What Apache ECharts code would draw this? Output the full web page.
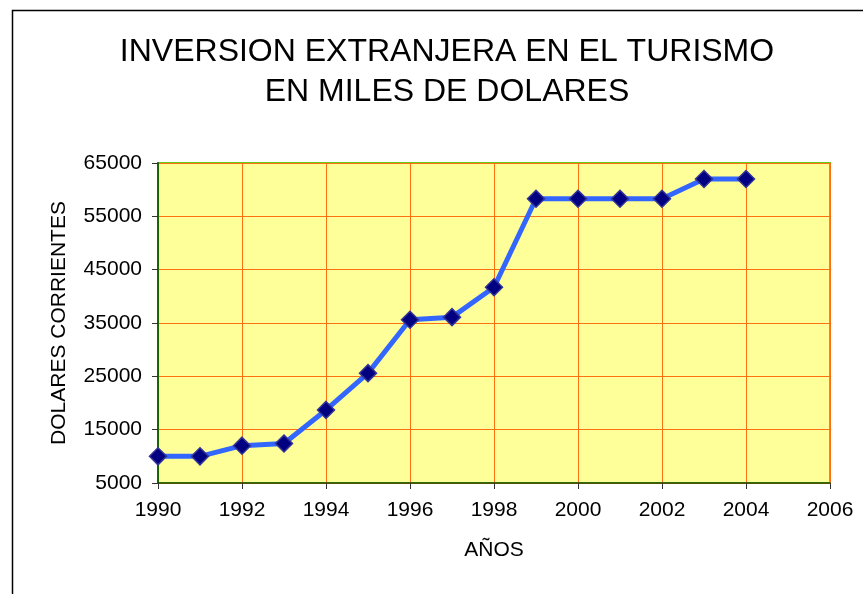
<!DOCTYPE html>
<html>
<head>
<meta charset="utf-8">
<script src="https://cdn.jsdelivr.net/npm/echarts@6/dist/echarts.min.js"></script>
<style>
  html, body { margin: 0; padding: 0; background: #fff; }
  #chart { width: 863px; height: 594px; }
</style>
</head>
<body>
<div id="chart"></div>
<script>
  // years and investment (thousands of dollars)
  var years = [1990, 1991, 1992, 1993, 1994, 1995, 1996, 1997, 1998, 1999, 2000, 2001, 2002, 2003, 2004];
  var inversion = [10000, 10000, 12000, 12400, 18700, 25600, 35600, 36100, 41700, 58300, 58300, 58300, 58300, 62000, 62000];

  var chartDom = document.getElementById('chart');
  var chart = echarts.init(chartDom);

  var points = [];
  for (var i = 0; i < years.length; i++) {
    points.push([years[i], inversion[i]]);
  }

  var font = 'Liberation Sans, Arial, sans-serif';

  var options = {
    animation: false,
    backgroundColor: '#ffffff',
    title: {
      text: 'INVERSION EXTRANJERA EN EL TURISMO\nEN MILES DE DOLARES',
      left: 442,
      textAlign: 'center',
      top: 27,
      textStyle: {
        fontFamily: font,
        fontSize: 32,
        fontWeight: 'normal',
        color: '#000',
        lineHeight: 40
      }
    },
    graphic: [{
      type: 'rect',
      shape: { x: 12.5, y: 10.5, width: 950, height: 700 },
      style: { fill: 'none', stroke: '#000', lineWidth: 1.5 },
      silent: true
    }],
    grid: {
      left: 158,
      right: 33,
      top: 163,
      bottom: 111,
      show: true,
      backgroundColor: '#ffff99',
      borderColor: '#66cc22',
      borderWidth: 2
    },
    xAxis: {
      type: 'value',
      min: 1990,
      max: 2006,
      interval: 2,
      name: 'AÑOS',
      nameLocation: 'middle',
      nameGap: 57,
      nameTextStyle: { fontFamily: font, fontSize: 21, color: '#000' },
      axisLine: { lineStyle: { color: '#1a4d00', width: 1.5 } },
      axisTick: { show: true, length: 6, lineStyle: { color: '#333' } },
      axisLabel: {
        margin: 17,
        fontFamily: font,
        fontSize: 21,
        color: '#000',
        formatter: function (v) { return String(v); }
      },
      splitLine: { show: true, lineStyle: { color: '#ff7010', width: 1 } }
    },
    yAxis: {
      type: 'value',
      min: 5000,
      max: 65000,
      interval: 10000,
      name: 'DOLARES CORRIENTES',
      nameLocation: 'middle',
      nameGap: 88,
      nameTextStyle: { fontFamily: font, fontSize: 21, color: '#000' },
      axisLine: { show: true, lineStyle: { color: '#1a6600', width: 2 } },
      axisTick: { show: true, length: 6, lineStyle: { color: '#333' } },
      axisLabel: {
        margin: 16,
        fontFamily: font,
        fontSize: 21,
        color: '#000',
        formatter: function (v) { return String(v); }
      },
      splitLine: { show: true, lineStyle: { color: '#ff7010', width: 1 } }
    },
    series: [{
      type: 'line',
      data: points,
      symbol: 'diamond',
      symbolSize: 17,
      lineStyle: { color: '#3366ff', width: 5 },
      itemStyle: { color: '#000080', borderColor: '#333399', borderWidth: 1.5 }
    }]
  };

  chart.setOption(options, true);
</script>
</body>
</html>
